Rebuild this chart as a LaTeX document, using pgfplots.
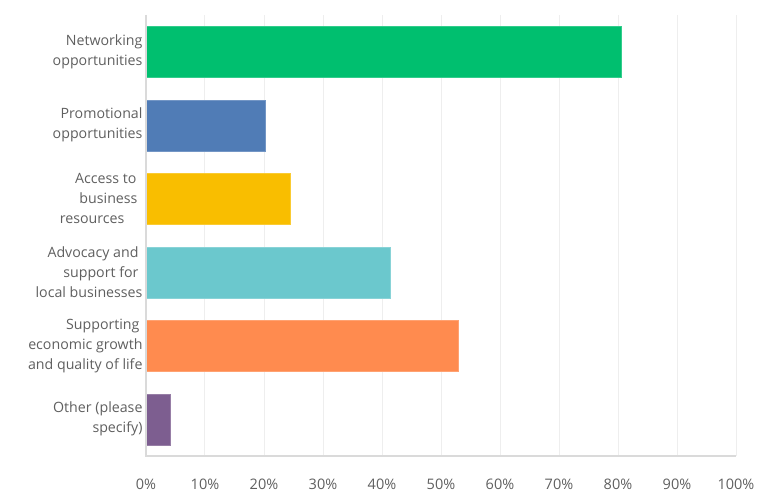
\documentclass[border=0pt]{standalone}
\usepackage{fontspec}
\setmainfont{Open Sans}
\usepackage{pgfplots}
\pgfplotsset{compat=1.18}
\definecolor{cgreen}{HTML}{00BF6F}
\definecolor{cblue}{HTML}{507CB6}
\definecolor{cyellow}{HTML}{F9BE00}
\definecolor{cteal}{HTML}{6BC8CD}
\definecolor{corange}{HTML}{FF8B4F}
\definecolor{cpurple}{HTML}{7D5E90}
\definecolor{gridgray}{HTML}{EEEEEE}
\definecolor{axisgray}{HTML}{DADADA}
\definecolor{labelgray}{HTML}{5F5F5F}
\begin{document}
\begin{tikzpicture}
\begin{axis}[
  scale only axis, width=590bp, height=441bp,
  xbar, bar shift=0pt, bar width=51bp,
  xmin=0, xmax=100, ymin=-0.5, ymax=5.5, y dir=reverse,
  xtick={0,10,...,100},
  xticklabel={\pgfmathprintnumber{\tick}\%},
  ytick={0,...,5},
  yticklabels={{Networking\\opportunities},{Promotional\\opportunities},{Access to\kern6bp\\business\kern5bp\\resources\kern18bp},{Advocacy and\kern4bp\\support for\kern4bp\\local businesses},{Supporting\kern3bp\\economic growth\\and quality of life},{Other (please\\specify)}},
  yticklabel style={align=right, font=\fontsize{14.2bp}{20bp}\selectfont, text=labelgray},
  xticklabel style={font=\fontsize{14.5bp}{17bp}\selectfont, text=labelgray, yshift=-19bp},
  major tick length=0pt,
  xmajorgrids, grid style={draw=gridgray, line width=1bp},
  axis line style={draw=none},
  /pgf/number format/assume math mode=true,
  clip=false,
]
\addplot[fill=cgreen, draw=cgreen!80!white] coordinates {(80.6,0)};
\addplot[fill=cblue, draw=cblue!80!white] coordinates {(20.2,1)};
\addplot[fill=cyellow, draw=cyellow!80!white] coordinates {(24.4,2)};
\addplot[fill=cteal, draw=cteal!80!white] coordinates {(41.4,3)};
\addplot[fill=corange, draw=corange!80!white] coordinates {(52.9,4)};
\addplot[fill=cpurple, draw=cpurple!80!white] coordinates {(4.1,5)};
\draw[axisgray, line width=1.2bp] (axis description cs:0,1) -- (axis description cs:0,0) -- (axis description cs:1,0);
\coordinate (bl) at (axis description cs:0,0);
\coordinate (tr) at (axis description cs:1,1);
\end{axis}
\pgfresetboundingbox
\path ([shift={(-146bp,-41bp)}]bl) rectangle ([shift={(32bp,15bp)}]tr);
\end{tikzpicture}
\end{document}
